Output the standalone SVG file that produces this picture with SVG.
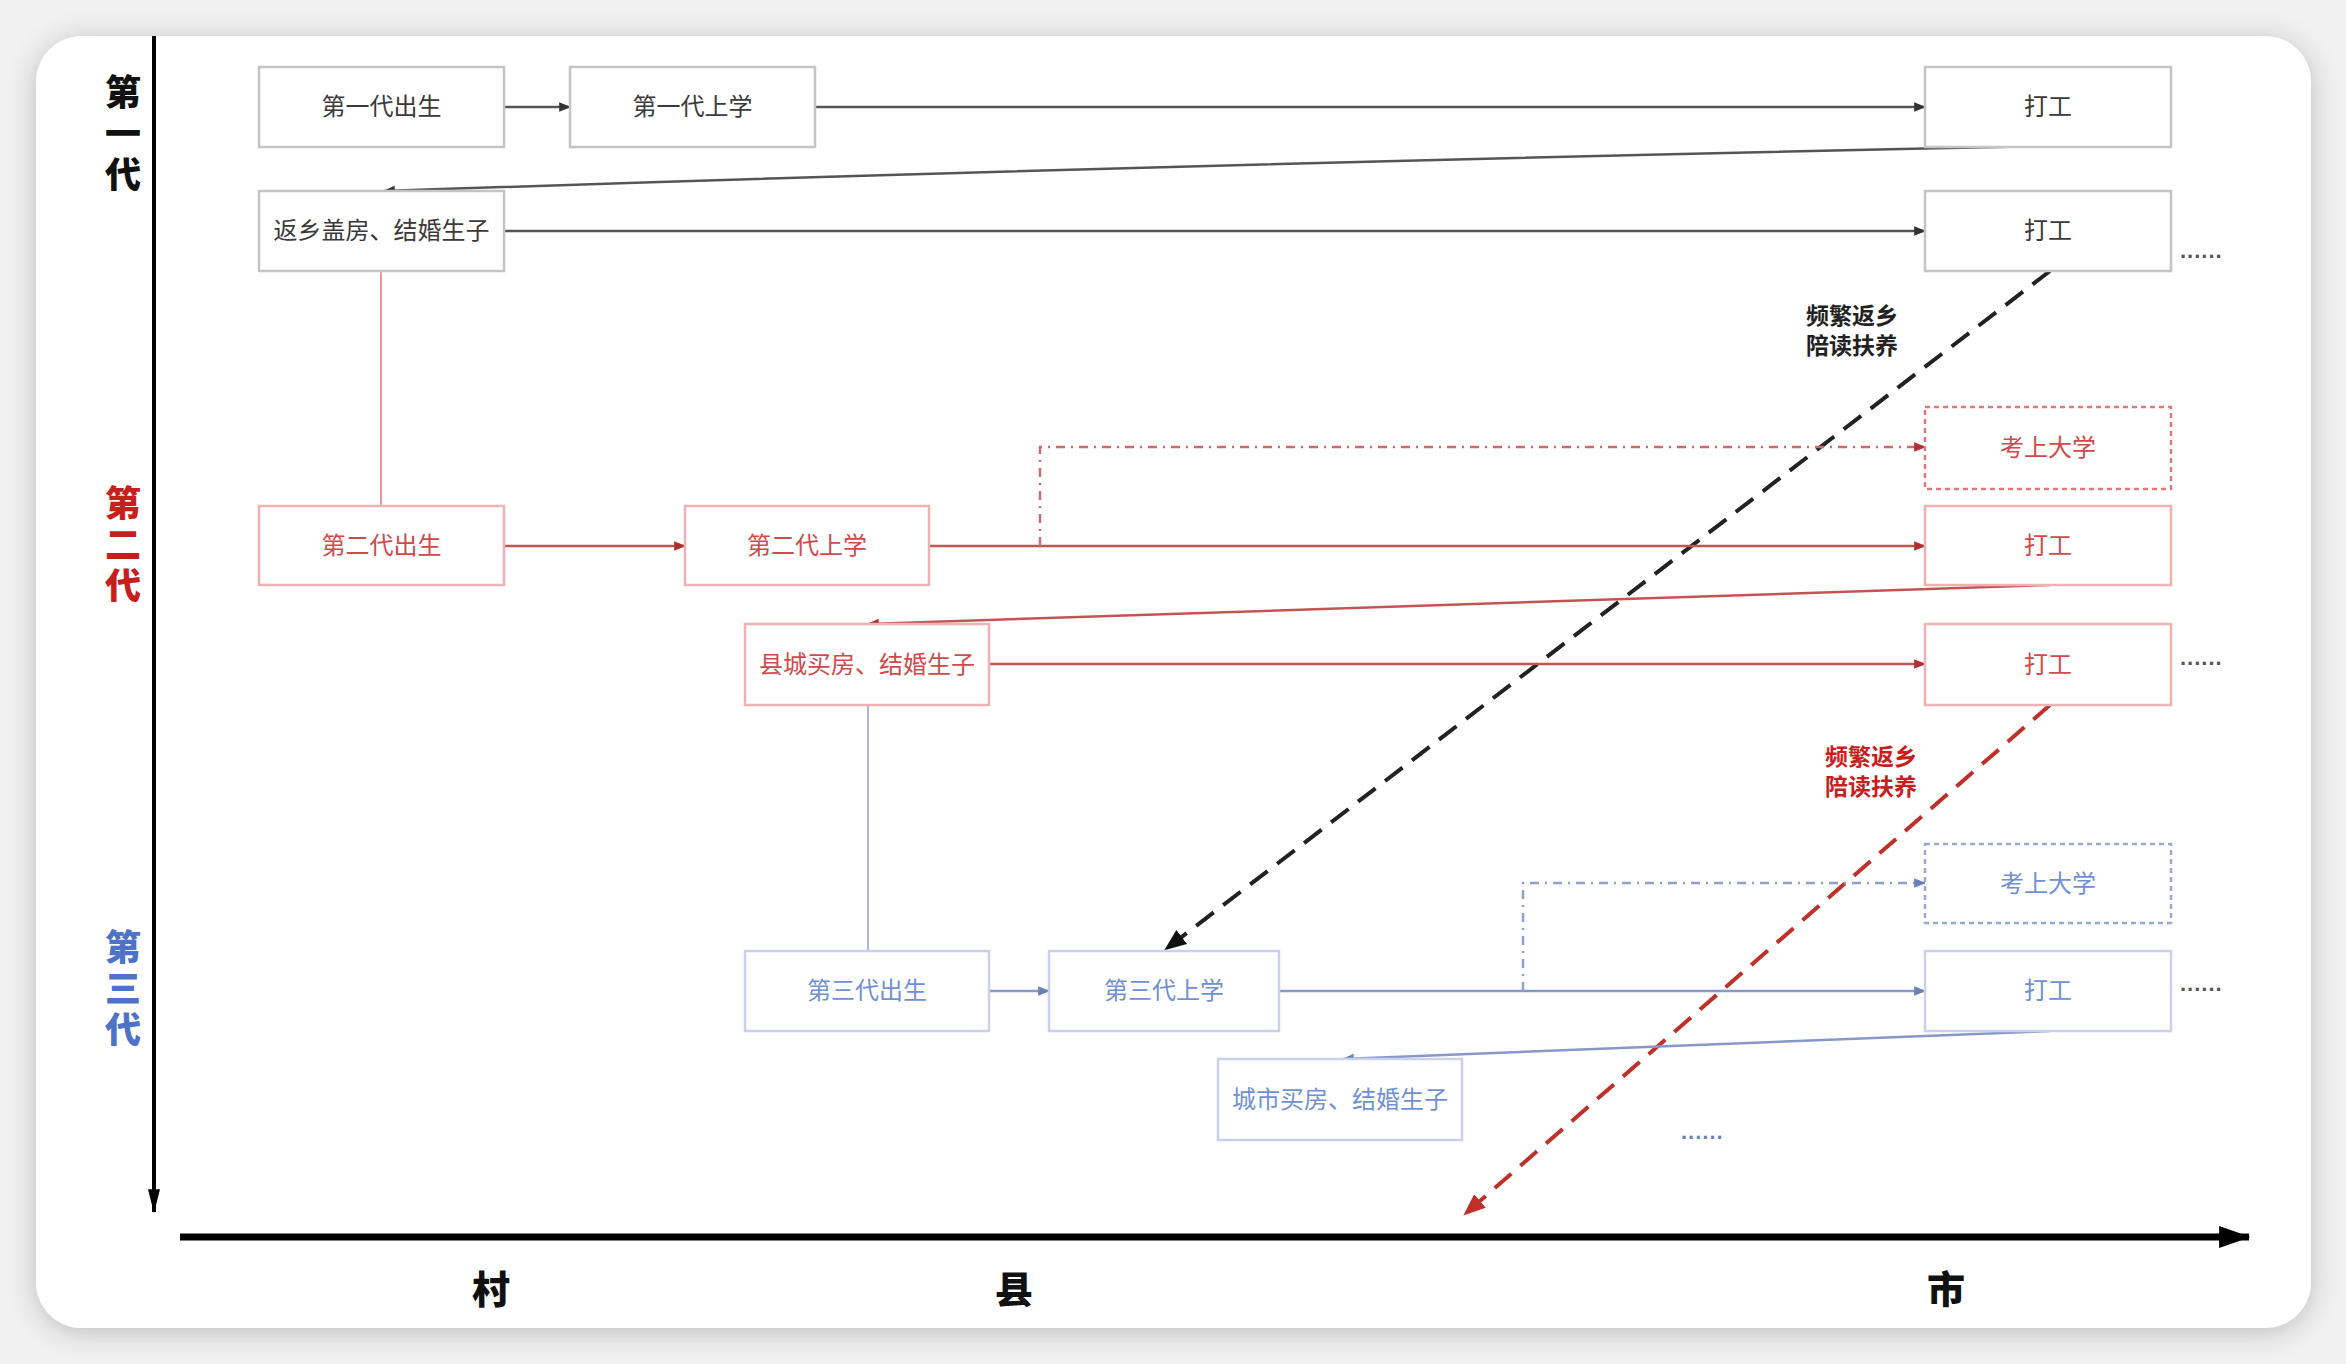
<svg xmlns="http://www.w3.org/2000/svg" width="2346" height="1364" viewBox="0 0 2346 1364">
<defs>
  <filter id="shadow" x="-5%" y="-5%" width="110%" height="110%">
    <feDropShadow dx="0" dy="4" stdDeviation="14" flood-color="#000" flood-opacity="0.22"/>
  </filter>
  <marker id="aGray" viewBox="0 0 10 10" refX="9" refY="5" markerWidth="12" markerHeight="12" markerUnits="userSpaceOnUse" orient="auto">
    <path d="M0,1 L10,5 L0,9 Z" fill="#333"/>
  </marker>
  <marker id="aRed" viewBox="0 0 10 10" refX="9" refY="5" markerWidth="12" markerHeight="12" markerUnits="userSpaceOnUse" orient="auto">
    <path d="M0,1 L10,5 L0,9 Z" fill="#b03030"/>
  </marker>
  <marker id="aBlue" viewBox="0 0 10 10" refX="9" refY="5" markerWidth="12" markerHeight="12" markerUnits="userSpaceOnUse" orient="auto">
    <path d="M0,1 L10,5 L0,9 Z" fill="#6b80b8"/>
  </marker>
  <marker id="aBig" viewBox="0 0 10 10" refX="9" refY="5" markerWidth="22" markerHeight="22" markerUnits="userSpaceOnUse" orient="auto">
    <path d="M0,1 L10,5 L0,9 Z" fill="#111"/>
  </marker>
  <marker id="aDashRed" viewBox="0 0 10 10" refX="9" refY="5" markerWidth="22" markerHeight="22" markerUnits="userSpaceOnUse" orient="auto">
    <path d="M0,1 L10,5 L0,9 Z" fill="#c0302a"/>
  </marker>
  <marker id="aAxisV" viewBox="0 0 10 20" refX="5" refY="19" markerWidth="12" markerHeight="26" markerUnits="userSpaceOnUse" orient="0">
    <path d="M0,0 L10,0 L5,20 Z" fill="#000"/>
  </marker>
  <marker id="aAxisH" viewBox="0 0 20 14" refX="19" refY="7" markerWidth="34" markerHeight="22" markerUnits="userSpaceOnUse" orient="auto">
    <path d="M0,0 L20,7 L0,14 Z" fill="#000"/>
  </marker>
</defs>
<style>
  .box1 { fill: #fff; stroke: #c4c4c4; stroke-width: 2.5; }
  .box2 { fill: #fff; stroke: #efb2b2; stroke-width: 2.5; }
  .box3 { fill: #fff; stroke: #c8d2ec; stroke-width: 2.5; }
  .dash2 { fill: #fff; stroke: #e07a7a; stroke-width: 2.5; stroke-dasharray: 5 4; }
  .dash3 { fill: #fff; stroke: #98a9d6; stroke-width: 2.5; stroke-dasharray: 5 4; }
  .t { font-family: "Noto Sans CJK SC", "Noto Sans", sans-serif; font-size: 24px; text-anchor: middle; }
  .t1 { fill: #3a3a3a; }
  .t2 { fill: #d04a4a; }
  .t3 { fill: #7090d4; }
  .gen { font-family: "Noto Sans CJK SC", sans-serif; font-size: 36px; font-weight: 900; text-anchor: middle; writing-mode: vertical-rl; letter-spacing: 5px; }
  .axl { font-family: "Noto Sans CJK SC", sans-serif; font-size: 38px; font-weight: 900; text-anchor: middle; fill: #111; }
  .lab { font-family: "Noto Sans CJK SC", sans-serif; font-size: 23px; font-weight: 700; }
  .dots { font-family: "Liberation Sans", sans-serif; font-size: 22px; font-weight: 700; letter-spacing: 1px; fill: #555; }
  .c1 { fill: none; stroke: #555; stroke-width: 2.5; }
  .c2 { fill: none; stroke: #c45454; stroke-width: 2.5; }
  .c3 { fill: none; stroke: #8798c8; stroke-width: 2.5; }
</style>

<rect x="0" y="0" width="2346" height="1364" fill="#f1f1f1"/>
<rect id="card" x="36" y="36" width="2275" height="1292" rx="46" ry="46" fill="#fff" filter="url(#shadow)"/>

<!-- axes -->
<g id="axes">
  <line x1="154" y1="36" x2="154" y2="1212" stroke="#000" stroke-width="4" marker-end="url(#aAxisV)"/>
  <line x1="180" y1="1237" x2="2249" y2="1237" stroke="#000" stroke-width="7" marker-end="url(#aAxisH)"/>
  <text class="gen" x="123" y="136" fill="#111">第一代</text>
  <text class="gen" x="123" y="547" fill="#c81e1e">第二代</text>
  <text class="gen" x="123" y="991" fill="#4d72c8">第三代</text>
  <text class="axl" x="491" y="1303">村</text>
  <text class="axl" x="1014" y="1303">县</text>
  <text class="axl" x="1946" y="1303">市</text>
</g>

<!-- connectors -->
<g id="connectors">
  <!-- generation 1 -->
  <path class="c1" d="M504,107 H570" marker-end="url(#aGray)"/>
  <path class="c1" d="M815,107 H1925" marker-end="url(#aGray)"/>
  <path class="c1" d="M2050,146 Q1250,162 384,191" marker-end="url(#aGray)"/>
  <path class="c1" d="M504,231 H1925" marker-end="url(#aGray)"/>
  <path d="M381,271 V506" fill="none" stroke="#e29a9a" stroke-width="2"/>
  <path d="M2050,271 L1166,949" fill="none" stroke="#222" stroke-width="4" stroke-dasharray="22 12" marker-end="url(#aBig)"/>
  <text class="lab" x="1806" y="324" fill="#222">频繁返乡</text>
  <text class="lab" x="1806" y="354" fill="#222">陪读扶养</text>
  <!-- generation 2 -->
  <path class="c2" d="M504,546 H685" marker-end="url(#aRed)"/>
  <path class="c2" d="M929,546 H1925" marker-end="url(#aRed)"/>
  <path d="M1040,546 V447 H1925" fill="none" stroke="#d06a6a" stroke-width="2.5" stroke-dasharray="9 6 2 6" marker-end="url(#aRed)"/>
  <path class="c2" d="M2050,585 Q1450,603 868,624" marker-end="url(#aRed)"/>
  <path class="c2" d="M989,664 H1925" marker-end="url(#aRed)"/>
  <path d="M868,705 V951" fill="none" stroke="#aab8de" stroke-width="2"/>
  <path d="M2050,705 L1465,1214" fill="none" stroke="#c0302a" stroke-width="4" stroke-dasharray="22 12" marker-end="url(#aDashRed)"/>
  <text class="lab" x="1825" y="765" fill="#c81e1e">频繁返乡</text>
  <text class="lab" x="1825" y="795" fill="#c81e1e">陪读扶养</text>
  <!-- generation 3 -->
  <path class="c3" d="M989,991 H1049" marker-end="url(#aBlue)"/>
  <path class="c3" d="M1279,991 H1925" marker-end="url(#aBlue)"/>
  <path d="M1523,991 V883 H1925" fill="none" stroke="#8fa0cc" stroke-width="2.5" stroke-dasharray="9 6 2 6" marker-end="url(#aBlue)"/>
  <path class="c3" d="M2050,1031 Q1700,1046 1343,1059" marker-end="url(#aBlue)"/>
</g>

<!-- generation 1 nodes -->
<g id="g1-born"><rect class="box1" x="259" y="67" width="245" height="80"/><text class="t t1" x="381.5" y="115">第一代出生</text></g>
<g id="g1-school"><rect class="box1" x="570" y="67" width="245" height="80"/><text class="t t1" x="692.5" y="115">第一代上学</text></g>
<g id="g1-work1"><rect class="box1" x="1925" y="67" width="246" height="80"/><text class="t t1" x="2048" y="115">打工</text></g>
<g id="g1-home"><rect class="box1" x="259" y="191" width="245" height="80"/><text class="t t1" x="381.5" y="239">返乡盖房、结婚生子</text></g>
<g id="g1-work2"><rect class="box1" x="1925" y="191" width="246" height="80"/><text class="t t1" x="2048" y="239">打工</text><text class="dots" x="2180" y="258">......</text></g>

<!-- generation 2 nodes -->
<g id="g2-college"><rect class="dash2" x="1925" y="407" width="246" height="82"/><text class="t t2" x="2048" y="456">考上大学</text></g>
<g id="g2-born"><rect class="box2" x="259" y="506" width="245" height="79"/><text class="t t2" x="381.5" y="554">第二代出生</text></g>
<g id="g2-school"><rect class="box2" x="685" y="506" width="244" height="79"/><text class="t t2" x="807" y="554">第二代上学</text></g>
<g id="g2-work1"><rect class="box2" x="1925" y="506" width="246" height="79"/><text class="t t2" x="2048" y="554">打工</text></g>
<g id="g2-home"><rect class="box2" x="745" y="624" width="244" height="81"/><text class="t t2" x="867" y="673">县城买房、结婚生子</text></g>
<g id="g2-work2"><rect class="box2" x="1925" y="624" width="246" height="81"/><text class="t t2" x="2048" y="673">打工</text><text class="dots" x="2180" y="665">......</text></g>

<!-- generation 3 nodes -->
<g id="g3-college"><rect class="dash3" x="1925" y="844" width="246" height="79"/><text class="t t3" x="2048" y="892">考上大学</text></g>
<g id="g3-born"><rect class="box3" x="745" y="951" width="244" height="80"/><text class="t t3" x="867" y="999">第三代出生</text></g>
<g id="g3-school"><rect class="box3" x="1049" y="951" width="230" height="80"/><text class="t t3" x="1164" y="999">第三代上学</text></g>
<g id="g3-work"><rect class="box3" x="1925" y="951" width="246" height="80"/><text class="t t3" x="2048" y="999">打工</text><text class="dots" x="2180" y="991">......</text></g>
<g id="g3-home"><rect class="box3" x="1218" y="1059" width="244" height="81"/><text class="t t3" x="1340" y="1108">城市买房、结婚生子</text></g>
<g id="more"><text class="dots" x="1681" y="1139" style="fill:#6b80b8">......</text></g>
</svg>
